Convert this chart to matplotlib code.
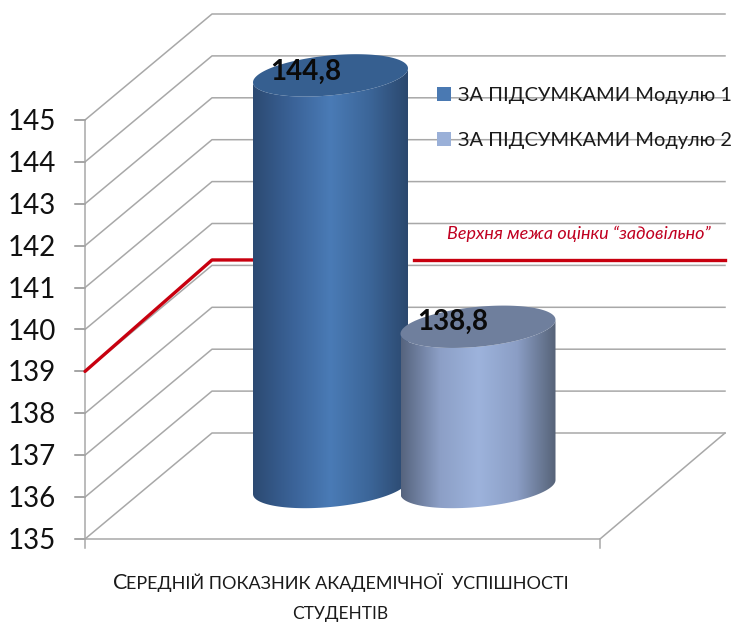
import numpy as np
import matplotlib
matplotlib.use('Agg')
import matplotlib.pyplot as plt
from matplotlib.colors import LinearSegmentedColormap
from matplotlib.patches import Polygon, Patch

plt.rcParams['font.family'] = ['Lato', 'Open Sans', 'DejaVu Sans']

# data
y_ticks = [135, 136, 137, 138, 139, 140, 141, 142, 143, 144, 145]
series_names = ['ЗА ПІДСУМКАМИ Модулю 1', 'ЗА ПІДСУМКАМИ Модулю 2']
values = [144.8, 138.8]
value_labels = ['144,8', '138,8']
limit_front = 139.0
limit_back = 139.13
limit_label = 'Верхня межа оцінки “задовільно”'
cat_first = 'С'
cat_rest = 'ЕРЕДНІЙ ПОКАЗНИК АКАДЕМІЧНОЇ  УСПІШНОСТІ'
cat_line2 = 'СТУДЕНТІВ'

# fake 3d layout, in pixels of the 733x625 picture
W, H = 733, 625
unit = 41.9
y0 = 539
depth_x, depth_y = 127, 106
x_left, x_right = 85, 600
bar_left = [253, 400.5]
bar_w = 155
bar_cols = [['#2c4a72', '#3a6297', '#4a7bb6', '#3c6699', '#2b486e'],
            ['#56647e', '#8c9fc6', '#9db3dc', '#8b9ec5', '#566378']]
cap_cols = ['#365f90', '#6f7f9d']
grid_col = '#a8a8a8'


def val(px):
    # picture pixel height -> axis value
    return 135 + (y0 - px) / unit


fig = plt.figure(figsize=(W / 100, H / 100), dpi=100)
ax = fig.add_axes([0, 0, 1, 1])

# walls and floor
for v in y_ticks:
    ax.plot([x_left, x_left + depth_x, x_right + 125],
            [v, v + depth_y / unit, v + depth_y / unit],
            color=grid_col, lw=1.1, zorder=1)
    ax.plot([x_left - 10, x_left], [v, v], color='#8c8c8c', lw=1.1, zorder=1)
    ax.text(56, v - 0.05, str(v), ha='right', va='center', fontsize=20, color='#111111')
ax.plot([x_left, x_left], [val(548), 145], color='#a8a8a8', lw=1.1, zorder=1)
ax.plot([x_right, x_right], [val(548), 135], color='#a8a8a8', lw=1.1, zorder=1)
ax.plot([x_left, x_right, x_right + 125], [135, 135, 135 + depth_y / unit],
        color=grid_col, lw=1.1, zorder=1)

# upper limit line, broken around the bars
ax.plot([x_left, x_left + depth_x, 255],
        [limit_front, limit_back + depth_y / unit, limit_back + depth_y / unit],
        color='#c8000f', lw=2.4, zorder=2, solid_capstyle='round')
ax.plot([414, x_right + 125],
        [limit_back + depth_y / unit, limit_back + depth_y / unit],
        color='#c8000f', lw=2.4, zorder=2)
ax.text(579, val(234), limit_label, color='#c00020', style='italic',
        fontsize=13, ha='center', va='center')

# cylinders
t = np.linspace(0, 2 * np.pi, 181)
half = np.linspace(0, np.pi, 91)
base = val(487)
for i, v in enumerate(values):
    x0 = bar_left[i]
    cx = x0 + bar_w / 2
    top = v + depth_y / 2 / unit
    z = 5 + i * 2

    # side: lower half of the base ellipse, then lower half of the top ellipse
    hx = cx + bar_w / 2 * np.cos(half)
    low = base + 7 / unit * np.cos(half) - 20 / unit * np.sin(half)
    high = top + 7 / unit * np.cos(half) - 20 / unit * np.sin(half)
    side = np.c_[np.r_[hx, hx[::-1]], np.r_[low, high[::-1]]]
    cmap = LinearSegmentedColormap.from_list('b', bar_cols[i])
    im = ax.imshow(np.linspace(0, 1, 256)[None, :], cmap=cmap, aspect='auto',
                   extent=[x0, x0 + bar_w, val(540), val(0)], zorder=z)
    im.set_clip_path(Polygon(side, transform=ax.transData))

    cap_x = cx + bar_w / 2 * np.cos(t)
    cap_y = top + 7 / unit * np.cos(t) + 20 / unit * np.sin(t)
    ax.add_patch(Polygon(np.c_[cap_x, cap_y], facecolor=cap_cols[i],
                         edgecolor='none', zorder=z + 1))
    ax.text(x0 + [53, 52.5][i], top + [4, 5][i] / unit, value_labels[i], fontsize=20,
            fontweight='bold', ha='center', va='center', color='#0a0a0a', zorder=20)

# legend
handles = [Patch(facecolor='#4a79b2'), Patch(facecolor='#9ab0d8')]
leg = ax.legend(handles, series_names, loc='upper left', frameon=False,
                bbox_to_anchor=(437 / W, 1 - 87 / H), borderaxespad=0, borderpad=0,
                fontsize=14.4, handlelength=0.7, handleheight=0.7, handletextpad=0.35,
                labelspacing=1.4, labelcolor='#1a1a1a')
leg.set_zorder(30)

# category label in small capitals
ax.text(113, val(583), cat_first, fontsize=15.5, va='center', ha='left', color='#1a1a1a')
ax.text(126, val(583), cat_rest, fontsize=13, va='center', ha='left', color='#1a1a1a')
ax.text(340, val(614), cat_line2, fontsize=12.5, va='center', ha='center', color='#1a1a1a')

ax.set_xlim(0, W)
ax.set_ylim(val(H), val(0))
ax.axis('off')
fig.savefig('out.png', dpi=100)
